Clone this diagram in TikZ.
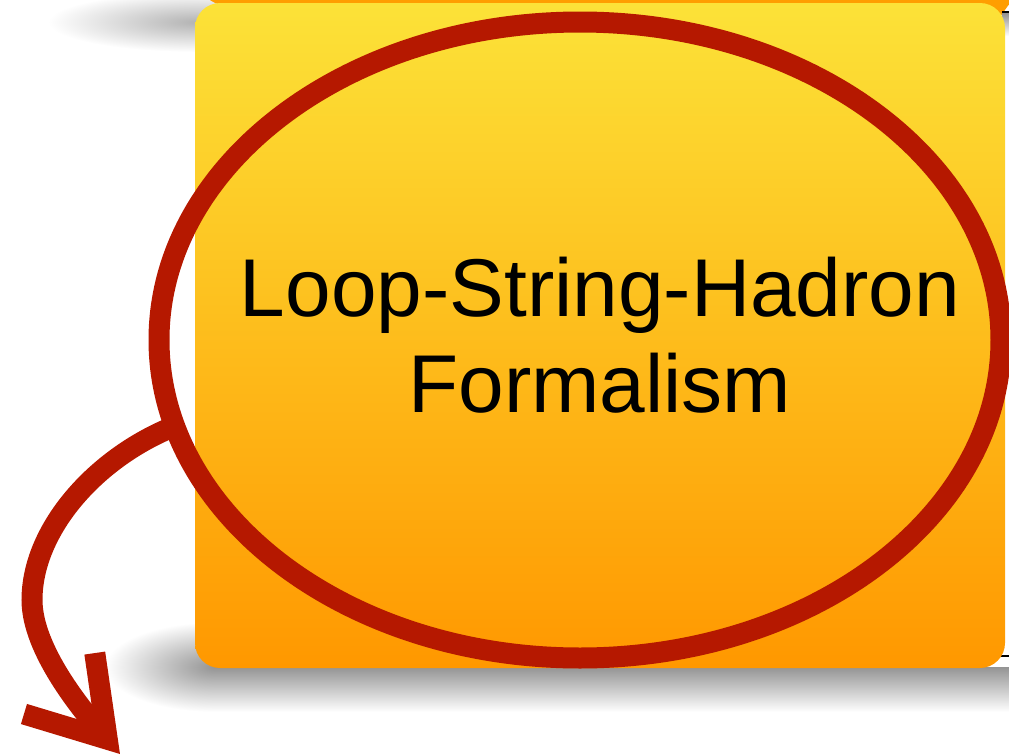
\documentclass[tikz,border=0pt]{standalone}
\usepackage{fontspec}
\setmainfont{Liberation Sans}
\usetikzlibrary{shapes.geometric}
\usetikzlibrary{arrows.meta}
\usetikzlibrary{positioning}
\definecolor{lshred}{RGB}{181,24,0}
\definecolor{lshyellow}{RGB}{252,226,56}
\definecolor{lshorange}{RGB}{255,152,0}
\definecolor{lshback}{RGB}{255,158,0}

\begin{document}
\begin{tikzpicture}[x=0.5pt,y=-0.5pt,
    card/.style={rounded corners=12.5pt,top color=lshyellow,bottom color=lshorange,
        minimum width=405pt,minimum height=332.5pt,inner sep=0pt,align=center,
        font=\fontsize{41}{48}\selectfont},
    ring/.style={ellipse,draw=lshred,line width=10.5pt,minimum width=421pt,
        minimum height=318pt,inner sep=0pt,outer sep=0pt},
    redarrow/.style={draw=lshred,line width=10.5pt,
        -{Straight Barb[length=36.7pt,width=46.7pt,sharp]}}]
    \useasboundingbox (0,0) rectangle (1009,756);
    \clip (0,0) rectangle (1009,756);

    % card behind, only its lower edge shows
    \shade[inner color=black!30,outer color=white] (198,22) ellipse (150 and 30);
    \fill[lshback,rounded corners=12.5pt] (200,-60) rectangle (1040,5);
    \fill[lshback] (985,0) -- (1012,0) -- (1000,17) -- cycle;
    \shade[top color=black!45,bottom color=white] (1002,12) rectangle (1009,36);
    \draw[line width=1pt] (1002,12) -- (1009,12);

    % shadow under the card
    \shade[inner color=black!42,outer color=white] (215,667) ellipse (110 and 45);
    \shade[top color=black!42,bottom color=white] (215,667) rectangle (1009,712);
    \draw[line width=1pt] (997,656) -- (1009,656);

    \node[card] (lsh) at (600,335.5) {Loop-String-Hadron\\Formalism};
    \node[ring] (loop) at (580,340) {};

    \coordinate (tip) at (120,754);
    \draw[redarrow] (loop.192) .. controls (95,458) and (32,530) .. (32,600)
        .. controls (32,650) and (83,711) .. (tip);
\end{tikzpicture}
\end{document}
